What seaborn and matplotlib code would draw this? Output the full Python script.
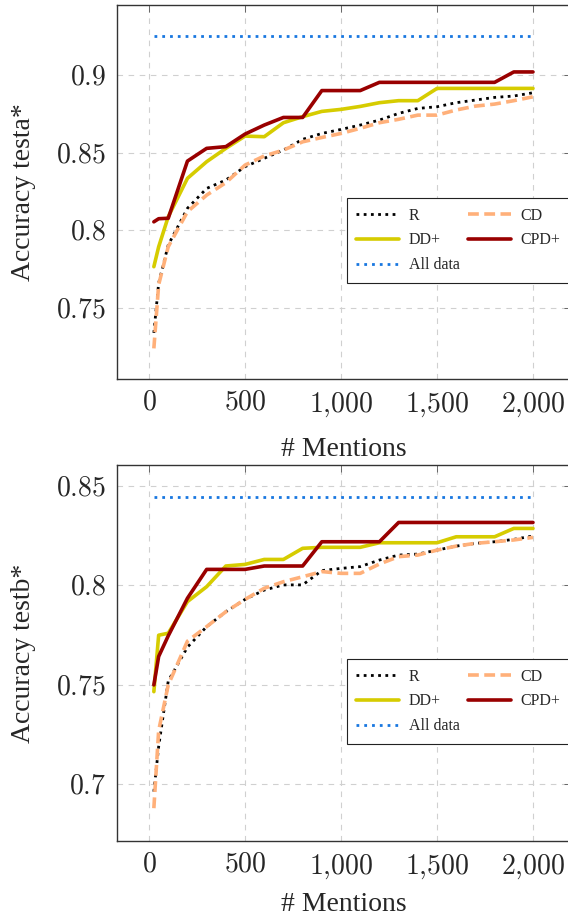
import pandas as pd
import matplotlib
matplotlib.use("Agg")
import matplotlib.pyplot as plt
import matplotlib.ticker as mticker
import seaborn as sns

sns.set_style("white")
plt.rcParams["font.family"] = ["Liberation Serif", "DejaVu Serif"]
plt.rcParams["mathtext.fontset"] = "cm"

# data
mentions = [25, 50, 100, 200, 300, 400, 500, 600, 700, 800, 900, 1000,
            1100, 1200, 1300, 1400, 1500, 1600, 1700, 1800, 1900, 2000]

testa_r = [0.734, 0.766, 0.7906, 0.8142, 0.827, 0.8324, 0.841, 0.8464, 0.8517, 0.8586, 0.8624,
           0.865, 0.8678, 0.871, 0.8753, 0.8785, 0.8796, 0.8822, 0.8839, 0.8856, 0.8865, 0.8886]
testa_cd = [0.724, 0.765, 0.7895, 0.812, 0.8227, 0.8307, 0.842, 0.8479, 0.8517, 0.857, 0.8598,
            0.8624, 0.8657, 0.8693, 0.8715, 0.8742, 0.8742, 0.8775, 0.88, 0.8813, 0.8835, 0.886]
testa_dd = [0.7766, 0.7894, 0.8088, 0.8335, 0.8442, 0.8528, 0.8607, 0.8603, 0.8693, 0.8732, 0.8766,
            0.8779, 0.8798, 0.8822, 0.8835, 0.8835, 0.8914, 0.8914, 0.8914, 0.8914, 0.8914, 0.8914]
testa_cpd = [0.8055, 0.8075, 0.8078, 0.8446, 0.8528, 0.8539, 0.862, 0.8678, 0.8727, 0.8727, 0.890,
             0.890, 0.890, 0.8953, 0.8953, 0.8953, 0.8953, 0.8953, 0.8953, 0.8953, 0.902, 0.902]
testa_all = 0.925

testb_r = [0.6963, 0.719, 0.752, 0.769, 0.7793, 0.7868, 0.793, 0.7977, 0.8003, 0.8003, 0.8075,
           0.8086, 0.8095, 0.8128, 0.8153, 0.8158, 0.8178, 0.8198, 0.8212, 0.822, 0.8232, 0.8249]
testb_cd = [0.688, 0.727, 0.750, 0.772, 0.7793, 0.7868, 0.793, 0.7986, 0.8019, 0.8044, 0.807,
            0.8061, 0.8061, 0.8108, 0.8145, 0.8153, 0.8178, 0.8198, 0.8212, 0.822, 0.8229, 0.8242]
testb_dd = [0.7466, 0.775, 0.776, 0.7919, 0.7994, 0.8098, 0.8106, 0.8131, 0.8131, 0.8187, 0.8192,
            0.8192, 0.8192, 0.8215, 0.8215, 0.8215, 0.8215, 0.8245, 0.8245, 0.8245, 0.8287, 0.8287]
testb_cpd = [0.75, 0.7643, 0.7747, 0.7936, 0.8081, 0.8081, 0.8081, 0.8098, 0.8098, 0.8098, 0.822,
             0.822, 0.822, 0.822, 0.8317, 0.8317, 0.8317, 0.8317, 0.8317, 0.8317, 0.8317, 0.8317]
testb_all = 0.8446

styles = {
    "R": dict(color="black", ls=(0, (1, 1.6)), lw=2.0),
    "CD": dict(color="#ffb07a", ls=(0, (3.0, 1.5)), lw=2.6),
    "DD+": dict(color="#d6cc00", ls="-", lw=2.6),
    "CPD+": dict(color="#990000", ls="-", lw=2.6),
    "All data": dict(color="#1877e0", ls=(0, (1, 1.8)), lw=2.0),
}


def tick_fmt(v, pos):
    s = f"{v:,.0f}" if abs(v) >= 1 else f"{v:g}"
    if s.startswith("-"):
        return ""
    return "$" + s.replace(",", "{,}") + "$"


def panel(ax, series, all_val, ylabel, ylim, yticks, xpad):
    lines = {}
    for name, vals in series.items():
        df = pd.DataFrame({"x": mentions, "y": vals})
        sns.lineplot(data=df, x="x", y="y", ax=ax, label=name, **styles[name])
        lines[name] = ax.lines[-1]
    df = pd.DataFrame({"x": mentions, "y": [all_val] * len(mentions)})
    sns.lineplot(data=df, x="x", y="y", ax=ax, label="All data", **styles["All data"])
    lines["All data"] = ax.lines[-1]

    ax.set_xlim(-167, 2198)
    ax.set_ylim(*ylim)
    ax.set_xticks([0, 500, 1000, 1500, 2000])
    ax.set_yticks(yticks)
    ax.xaxis.set_major_formatter(mticker.FuncFormatter(tick_fmt))
    ax.yaxis.set_major_formatter(mticker.FuncFormatter(tick_fmt))
    ax.tick_params(direction="in", length=5, width=0.6, top=True, right=True,
                   labelsize=20, color="#555555", pad=8)
    ax.grid(True, ls=(0, (5, 5)), color="#d0d0d0", lw=0.8)
    for sp in ax.spines.values():
        sp.set_color("#333333")
        sp.set_linewidth(1.0)
    ax.set_xlabel("# Mentions", fontsize=20, labelpad=xpad)
    ax.set_ylabel(ylabel, fontsize=20, labelpad=14)

    order = ["R", "DD+", "All data", "CD", "CPD+"]
    ax.legend([lines[k] for k in order], order, ncol=2, loc="upper left",
              bbox_to_anchor=(0.506, 0.484), borderaxespad=0, fontsize=11.5,
              frameon=True, fancybox=False, edgecolor="#222222", framealpha=1,
              handlelength=2.7, labelspacing=0.55, columnspacing=0.5,
              handletextpad=0.6, borderpad=0.6)
    ax.get_legend().get_frame().set_linewidth(0.8)


fig = plt.figure(figsize=(5.68, 9.17), dpi=100)
ax1 = fig.add_axes([117 / 568, 1 - 379 / 917, 454 / 568, 374 / 917])
ax2 = fig.add_axes([117 / 568, 1 - 841 / 917, 454 / 568, 376 / 917])

panel(ax1, {"R": testa_r, "CD": testa_cd, "DD+": testa_dd, "CPD+": testa_cpd},
      testa_all, "Accuracy testa*", (0.7043, 0.9451), [0.75, 0.8, 0.85, 0.9], 13)
panel(ax2, {"R": testb_r, "CD": testb_cd, "DD+": testb_dd, "CPD+": testb_cpd},
      testb_all, "Accuracy testb*", (0.6715, 0.8606), [0.7, 0.75, 0.8, 0.85], 8)

fig.savefig("out.png", dpi=100)
